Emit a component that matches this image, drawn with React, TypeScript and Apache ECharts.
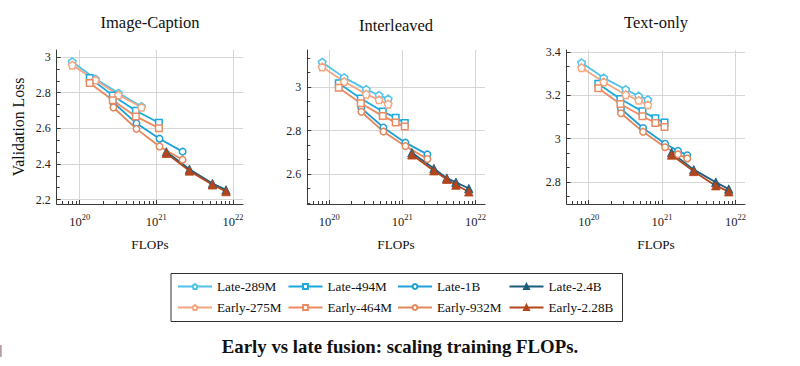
import React, { useEffect, useRef } from "react";
import * as echarts from "echarts";

const FONT = '"Liberation Serif", "Times New Roman", serif';

// ---------- data ----------
const SERIES_NAMES = [
  "Late-289M",
  "Late-494M",
  "Late-1B",
  "Late-2.4B",
  "Early-275M",
  "Early-464M",
  "Early-932M",
  "Early-2.28B",
];
const PLOT_TITLES = ["Image-Caption", "Interleaved", "Text-only"];
const X_TICK_EXPONENTS = [20, 21, 22];

// Image-Caption: FLOPs per model size
const IC_FLOPS_SMALL = [8e19, 1.6e20, 3.2e20, 6.4e20];
const IC_FLOPS_MID = [1.35e20, 2.7e20, 5.4e20, 1.08e21];
const IC_FLOPS_1B = [2.75e20, 5.5e20, 1.1e21, 2.2e21];
const IC_FLOPS_2B = [1.35e21, 2.7e21, 5.4e21, 8.1e21];
// Image-Caption: validation loss
const IC_LATE_289M = [2.974, 2.878, 2.798, 2.723];
const IC_LATE_494M = [2.883, 2.785, 2.699, 2.631];
const IC_LATE_1B = [2.745, 2.628, 2.542, 2.469];
const IC_LATE_2_4B = [2.468, 2.37, 2.29, 2.254];
const IC_EARLY_275M = [2.955, 2.872, 2.787, 2.718];
const IC_EARLY_464M = [2.855, 2.758, 2.667, 2.601];
const IC_EARLY_932M = [2.717, 2.597, 2.498, 2.424];
const IC_EARLY_2_28B = [2.46, 2.361, 2.283, 2.245];

// Interleaved: FLOPs per model size
const IL_FLOPS_SMALL = [8e19, 1.6e20, 3.2e20, 4.8e20, 6.4e20];
const IL_FLOPS_MID = [1.35e20, 2.7e20, 5.4e20, 8.1e20, 1.08e21];
const IL_FLOPS_1B = [2.75e20, 5.5e20, 1.1e21, 2.2e21];
const IL_FLOPS_2B = [1.35e21, 2.7e21, 4.05e21, 5.4e21, 8.1e21];
// Interleaved: validation loss
const IL_LATE_289M = [3.115, 3.044, 2.99, 2.963, 2.946];
const IL_LATE_494M = [3.018, 2.948, 2.888, 2.86, 2.835];
const IL_LATE_1B = [2.903, 2.815, 2.745, 2.691];
const IL_LATE_2_4B = [2.699, 2.626, 2.582, 2.563, 2.534];
const IL_EARLY_275M = [3.093, 3.026, 2.968, 2.942, 2.922];
const IL_EARLY_464M = [2.997, 2.926, 2.867, 2.838, 2.819];
const IL_EARLY_932M = [2.887, 2.796, 2.729, 2.67];
const IL_EARLY_2_28B = [2.689, 2.616, 2.577, 2.55, 2.519];

// Text-only: FLOPs per model size
const TO_FLOPS_SMALL = [8e19, 1.6e20, 3.2e20, 4.8e20, 6.4e20];
const TO_FLOPS_MID = [1.35e20, 2.7e20, 5.4e20, 8.1e20, 1.08e21];
const TO_FLOPS_1B = [2.75e20, 5.5e20, 1.1e21, 1.65e21, 2.2e21];
const TO_FLOPS_2B = [1.35e21, 2.7e21, 5.4e21, 8.1e21];
// Text-only: validation loss
const TO_LATE_289M = [3.351, 3.281, 3.227, 3.197, 3.18];
const TO_LATE_494M = [3.254, 3.183, 3.126, 3.094, 3.074];
const TO_LATE_1B = [3.138, 3.049, 2.976, 2.943, 2.923];
const TO_LATE_2_4B = [2.935, 2.856, 2.798, 2.766];
const TO_EARLY_275M = [3.328, 3.262, 3.203, 3.177, 3.156];
const TO_EARLY_464M = [3.233, 3.16, 3.103, 3.072, 3.054];
const TO_EARLY_932M = [3.117, 3.031, 2.96, 2.927, 2.908];
const TO_EARLY_2_28B = [2.924, 2.848, 2.782, 2.754];

// y-axis tick labels per plot
const IC_Y_TICKS = [2.2, 2.4, 2.6, 2.8, 3];
const IL_Y_TICKS = [2.6, 2.8, 3];
const TO_Y_TICKS = [2.8, 3, 3.2, 3.4];

// ---------- assembled tables ----------
const PLOT_DATA = [
  {
    flops: [IC_FLOPS_SMALL, IC_FLOPS_MID, IC_FLOPS_1B, IC_FLOPS_2B, IC_FLOPS_SMALL, IC_FLOPS_MID, IC_FLOPS_1B, IC_FLOPS_2B],
    loss: [IC_LATE_289M, IC_LATE_494M, IC_LATE_1B, IC_LATE_2_4B, IC_EARLY_275M, IC_EARLY_464M, IC_EARLY_932M, IC_EARLY_2_28B],
    yTicks: IC_Y_TICKS,
  },
  {
    flops: [IL_FLOPS_SMALL, IL_FLOPS_MID, IL_FLOPS_1B, IL_FLOPS_2B, IL_FLOPS_SMALL, IL_FLOPS_MID, IL_FLOPS_1B, IL_FLOPS_2B],
    loss: [IL_LATE_289M, IL_LATE_494M, IL_LATE_1B, IL_LATE_2_4B, IL_EARLY_275M, IL_EARLY_464M, IL_EARLY_932M, IL_EARLY_2_28B],
    yTicks: IL_Y_TICKS,
  },
  {
    flops: [TO_FLOPS_SMALL, TO_FLOPS_MID, TO_FLOPS_1B, TO_FLOPS_2B, TO_FLOPS_SMALL, TO_FLOPS_MID, TO_FLOPS_1B, TO_FLOPS_2B],
    loss: [TO_LATE_289M, TO_LATE_494M, TO_LATE_1B, TO_LATE_2_4B, TO_EARLY_275M, TO_EARLY_464M, TO_EARLY_932M, TO_EARLY_2_28B],
    yTicks: TO_Y_TICKS,
  },
];

// ---------- layout & style ----------
const PENTAGON = "path://M0,-10L9.51,-3.09L5.88,8.09L-5.88,8.09L-9.51,-3.09Z";
const SERIES_STYLE = [
  { color: "#4fc2ea", symbol: PENTAGON, size: 7.5, hollow: true },
  { color: "#1aa9dd", symbol: "rect", size: 6.5, hollow: true },
  { color: "#1e9fd5", symbol: "circle", size: 6.5, hollow: true },
  { color: "#1c5d7d", symbol: "triangle", size: 8.5, hollow: false },
  { color: "#f4a680", symbol: PENTAGON, size: 7.5, hollow: true },
  { color: "#ec8b62", symbol: "rect", size: 6.5, hollow: true },
  { color: "#e3885b", symbol: "circle", size: 6.5, hollow: true },
  { color: "#b3461c", symbol: "triangle", size: 8.5, hollow: false },
];
const GRIDS = [
  { left: 56.7, top: 50, width: 186.3, height: 154, yMin: 2.175, yMax: 3.04, cx: 150, titleY: 22 },
  { left: 307.3, top: 50, width: 177.7, height: 154, yMin: 2.463, yMax: 3.171, cx: 396, titleY: 25.6 },
  { left: 566.7, top: 50, width: 178.3, height: 154, yMin: 2.697, yMax: 3.41, cx: 656, titleY: 22 },
];
const X_MIN = 19.7;
const X_MAX = 22.13;

const AXIS_COLOR = "#3a3a3a";
const GRID_COLOR = "#d6d6d6";

function minorLogTicks(): number[] {
  const out: number[] = [];
  for (let n = 19; n <= 22; n++) {
    for (let k = 2; k <= 9; k++) {
      const v = Math.log10(k * Math.pow(10, n));
      if (v >= X_MIN && v <= X_MAX) out.push(v);
    }
  }
  return out;
}

function minorLinTicks(min: number, max: number): number[] {
  const out: number[] = [];
  for (let k = Math.ceil(min * 15); k <= Math.floor(max * 15); k++) {
    if (k % 3 !== 0) out.push(k / 15);
  }
  return out;
}

function buildOption() {
  const grid: any[] = [];
  const xAxis: any[] = [];
  const yAxis: any[] = [];
  const series: any[] = [];
  const graphic: any[] = [];
  const xMinor = minorLogTicks();

  GRIDS.forEach((g, i) => {
    grid.push({ left: g.left, top: g.top, width: g.width, height: g.height, containLabel: false });
    const pd = PLOT_DATA[i];
    xAxis.push({
      type: "value",
      gridIndex: i,
      min: X_MIN,
      max: X_MAX,
      position: "bottom",
      axisLine: { show: true, lineStyle: { color: AXIS_COLOR, width: 1 } },
      axisTick: { show: true, inside: true, length: 4, customValues: X_TICK_EXPONENTS, lineStyle: { color: AXIS_COLOR } },
      axisLabel: {
        show: true,
        customValues: X_TICK_EXPONENTS,
        margin: 8,
        formatter: (v: number) => `{b|10}{s|${Math.round(v)}}`,
        rich: {
          b: { fontFamily: FONT, fontSize: 12.5, color: "#222", lineHeight: 16, verticalAlign: "bottom" },
          s: { fontFamily: FONT, fontSize: 8.5, color: "#222", lineHeight: 4, verticalAlign: "top" },
        },
      },
      splitLine: { show: true, lineStyle: { color: GRID_COLOR, width: 1 } },
    });
    xAxis.push({
      type: "value",
      gridIndex: i,
      min: X_MIN,
      max: X_MAX,
      position: "bottom",
      axisLine: { show: false },
      axisTick: { show: true, inside: true, length: 3, customValues: xMinor, lineStyle: { color: AXIS_COLOR } },
      axisLabel: { show: false },
      splitLine: { show: false },
    });
    yAxis.push({
      type: "value",
      gridIndex: i,
      min: g.yMin,
      max: g.yMax,
      position: "left",
      axisLine: { show: true, lineStyle: { color: AXIS_COLOR, width: 1 } },
      axisTick: { show: true, inside: true, length: 4, customValues: pd.yTicks, lineStyle: { color: AXIS_COLOR } },
      axisLabel: { show: true, customValues: pd.yTicks, margin: 6, fontFamily: FONT, fontSize: 12, color: "#222" },
      splitLine: { show: true, lineStyle: { color: GRID_COLOR, width: 1 } },
    });
    yAxis.push({
      type: "value",
      gridIndex: i,
      min: g.yMin,
      max: g.yMax,
      position: "left",
      axisLine: { show: false },
      axisTick: { show: true, inside: true, length: 3, customValues: minorLinTicks(g.yMin, g.yMax), lineStyle: { color: AXIS_COLOR } },
      axisLabel: { show: false },
      splitLine: { show: false },
    });

    SERIES_NAMES.forEach((name, s) => {
      const st = SERIES_STYLE[s];
      const fl = pd.flops[s];
      const ls = pd.loss[s];
      series.push({
        type: "line",
        name,
        xAxisIndex: i * 2,
        yAxisIndex: i * 2,
        data: fl.map((f, j) => [Math.log10(f), ls[j]]),
        symbol: st.symbol,
        symbolSize: st.size,
        showAllSymbol: true,
        lineStyle: { color: st.color, width: 1.8 },
        itemStyle: st.hollow
          ? { color: "#ffffff", borderColor: st.color, borderWidth: 1.5 }
          : { color: st.color, borderColor: st.color, borderWidth: 0.8 },
        emphasis: { disabled: true },
        silent: true,
      });
    });

    graphic.push({
      type: "text",
      x: g.cx,
      y: g.titleY,
      style: { text: PLOT_TITLES[i], fontFamily: FONT, fontSize: 16.5, fill: "#111", textAlign: "center", textVerticalAlign: "middle" },
    });
    graphic.push({
      type: "text",
      x: g.cx,
      y: 244.5,
      style: { text: "FLOPs", fontFamily: FONT, fontSize: 13.2, fill: "#111", textAlign: "center", textVerticalAlign: "middle" },
    });
  });

  graphic.push({
    type: "text",
    x: 18.2,
    y: 127,
    rotation: Math.PI / 2,
    style: { text: "Validation Loss", fontFamily: FONT, fontSize: 15.8, fill: "#111", textAlign: "center", textVerticalAlign: "middle" },
  });
  graphic.push({
    type: "rect",
    shape: { x: 171, y: 273.5, width: 451.5, height: 48 },
    style: { fill: "none", stroke: "#333", lineWidth: 1 },
  });
  graphic.push({
    type: "text",
    x: 400,
    y: 346,
    style: {
      text: "Early vs late fusion: scaling training FLOPs.",
      fontFamily: FONT,
      fontSize: 18.8,
      fontWeight: "bold",
      fill: "#111",
      textAlign: "center",
      textVerticalAlign: "middle",
    },
  });
  graphic.push({
    type: "rect",
    shape: { x: 0, y: 345, width: 1.7, height: 12 },
    style: { fill: "#b99aa2" },
  });

  const legendLefts = [177, 287.5, 397, 508.5];
  const legend = legendLefts.map((left, c) => ({
    orient: "vertical",
    left,
    top: 279.5,
    padding: 0,
    itemWidth: 34,
    itemHeight: 6,
    itemGap: 7,
    selectedMode: false,
    data: [SERIES_NAMES[c], SERIES_NAMES[c + 4]],
    textStyle: { fontFamily: FONT, fontSize: 13.2, color: "#111", lineHeight: 14 },
  }));

  return {
    animation: false,
    backgroundColor: "#ffffff",
    grid,
    xAxis,
    yAxis,
    series,
    legend,
    graphic,
  };
}

export default function App() {
  const ref = useRef<HTMLDivElement>(null);
  useEffect(() => {
    if (!ref.current) return;
    const chart = echarts.init(ref.current, undefined, { renderer: "svg" });
    chart.setOption(buildOption() as any);
    return () => chart.dispose();
  }, []);
  return (
    <div
      ref={ref}
      style={{ position: "absolute", left: 0, top: 0, width: 800, height: 366, background: "#fff" }}
    />
  );
}
